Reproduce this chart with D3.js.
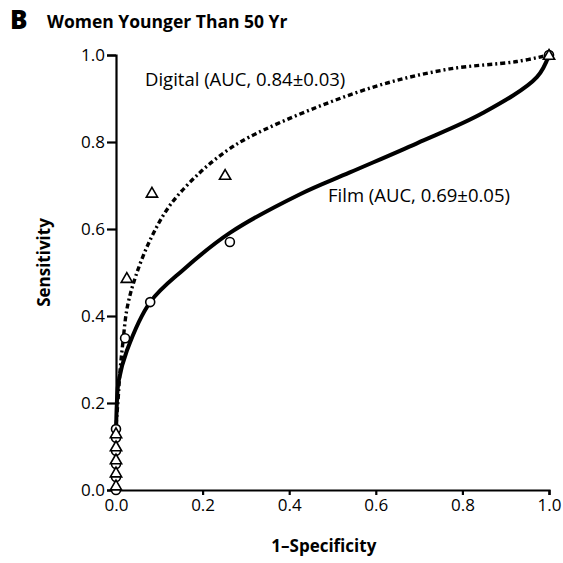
<!DOCTYPE html>
<head>
    <style>
        body { margin: 0; background: #fff; font-family: 'Open Sans', sans-serif; }
        .axis path, .axis line { stroke: #000; stroke-width: 2.2px; }
        .axis text { font-family: 'Open Sans', sans-serif; font-size: 17px; fill: #000; }
        .curve { fill: none; stroke: #000; }
        .marker { fill: #fff; stroke: #000; stroke-width: 1.6px; }
    </style>
    <script src="https://cdn.jsdelivr.net/npm/d3@7"></script>
</head>
<body>
    <script>
        // fitted ROC curves (1-specificity, sensitivity)
        const filmCurve = [[0, 0], [0, 0.12], [0.002, 0.2], [0.006, 0.25], [0.025, 0.32], [0.079, 0.432],
            [0.155, 0.506], [0.263, 0.591], [0.425, 0.68], [0.54, 0.73], [0.695, 0.797],
            [0.848, 0.867], [0.972, 0.949], [1, 1]];
        const digitalCurve = [[0, 0], [0, 0.14], [0.005, 0.21], [0.009, 0.27], [0.016, 0.34], [0.026, 0.42],
            [0.045, 0.49], [0.079, 0.575], [0.125, 0.655], [0.194, 0.73], [0.256, 0.78], [0.309, 0.812],
            [0.464, 0.88], [0.617, 0.933], [0.771, 0.968], [0.926, 0.985], [1, 1]];

        // observed operating points
        const filmPoints = [[0, 0], [0, 0.03], [0, 0.06], [0, 0.09], [0, 0.12], [0, 0.14],
            [0.021, 0.349], [0.079, 0.432], [0.263, 0.57], [1, 1]];
        const digitalPoints = [[0, 0.01], [0, 0.04], [0, 0.07], [0, 0.1], [0, 0.13],
            [0.025, 0.487], [0.083, 0.683], [0.252, 0.724], [1, 1]];

        const xTicks = [0, 0.2, 0.4, 0.6, 0.8, 1.0];
        const yTicks = [0, 0.2, 0.4, 0.6, 0.8, 1.0];

        const width = 563, height = 563;
        const margin = {top: 55, right: 14, bottom: 73, left: 116};

        const svg = d3.select('body').append('svg')
            .attr('width', width)
            .attr('height', height);

        const x = d3.scaleLinear().domain([0, 1]).range([margin.left, width - margin.right]);
        const y = d3.scaleLinear().domain([0, 1]).range([height - margin.bottom, margin.top]);

        // title
        svg.append('text')
            .attr('x', 10).attr('y', 29)
            .style('font-size', '26px').style('font-weight', 800)
            .text('B');
        svg.append('text')
            .attr('x', 47).attr('y', 28)
            .style('font-size', '17.5px').style('font-weight', 700)
            .text('Women Younger Than 50 Yr');

        // axes
        svg.append('g')
            .attr('class', 'axis')
            .attr('transform', `translate(0,${y(0)})`)
            .call(d3.axisBottom(x).tickValues(xTicks).tickFormat(d3.format('.1f')).tickSizeOuter(0).tickSize(5).tickPadding(4));

        svg.append('g')
            .attr('class', 'axis')
            .attr('transform', `translate(${x(0)},0)`)
            .call(d3.axisLeft(y).tickValues(yTicks).tickFormat(d3.format('.1f')).tickSizeOuter(0).tickSize(9).tickPadding(2));

        svg.append('text')
            .attr('x', x(0.48)).attr('y', 552)
            .attr('text-anchor', 'middle')
            .style('font-size', '17px').style('font-weight', 700)
            .text('1\u2013Specificity');

        svg.append('text')
            .attr('transform', `translate(50,${(y(0) + y(1)) / 2 - 10}) rotate(-90)`)
            .attr('text-anchor', 'middle')
            .style('font-size', '17px').style('font-weight', 700)
            .text('Sensitivity');

        const line = d3.line()
            .x(d => x(d[0]))
            .y(d => y(d[1]))
            .curve(d3.curveCatmullRom.alpha(0.5));

        // curves
        svg.append('path')
            .datum(digitalCurve)
            .attr('class', 'curve')
            .attr('stroke-width', 3.4)
            .attr('stroke-dasharray', '5,3,2,3')
            .attr('d', line);

        svg.append('path')
            .datum(filmCurve)
            .attr('class', 'curve')
            .attr('stroke-width', 4)
            .attr('d', line);

        // markers
        svg.selectAll('circle.film')
            .data(filmPoints)
            .join('circle')
            .attr('class', 'marker film')
            .attr('cx', d => x(d[0]))
            .attr('cy', d => y(d[1]))
            .attr('r', 4.5);

        const tri = d3.symbol().type(d3.symbolTriangle).size(55);
        svg.selectAll('path.digital')
            .data(digitalPoints)
            .join('path')
            .attr('class', 'marker digital')
            .attr('transform', d => `translate(${x(d[0])},${y(d[1]) + 1})`)
            .attr('d', tri);

        // curve labels
        svg.append('text')
            .attr('x', 145).attr('y', 86)
            .style('font-size', '18.5px')
            .text('Digital (AUC, 0.84\u00b10.03)');

        svg.append('text')
            .attr('x', 328).attr('y', 202)
            .style('font-size', '18.5px')
            .text('Film (AUC, 0.69\u00b10.05)');
    </script>
</body>
